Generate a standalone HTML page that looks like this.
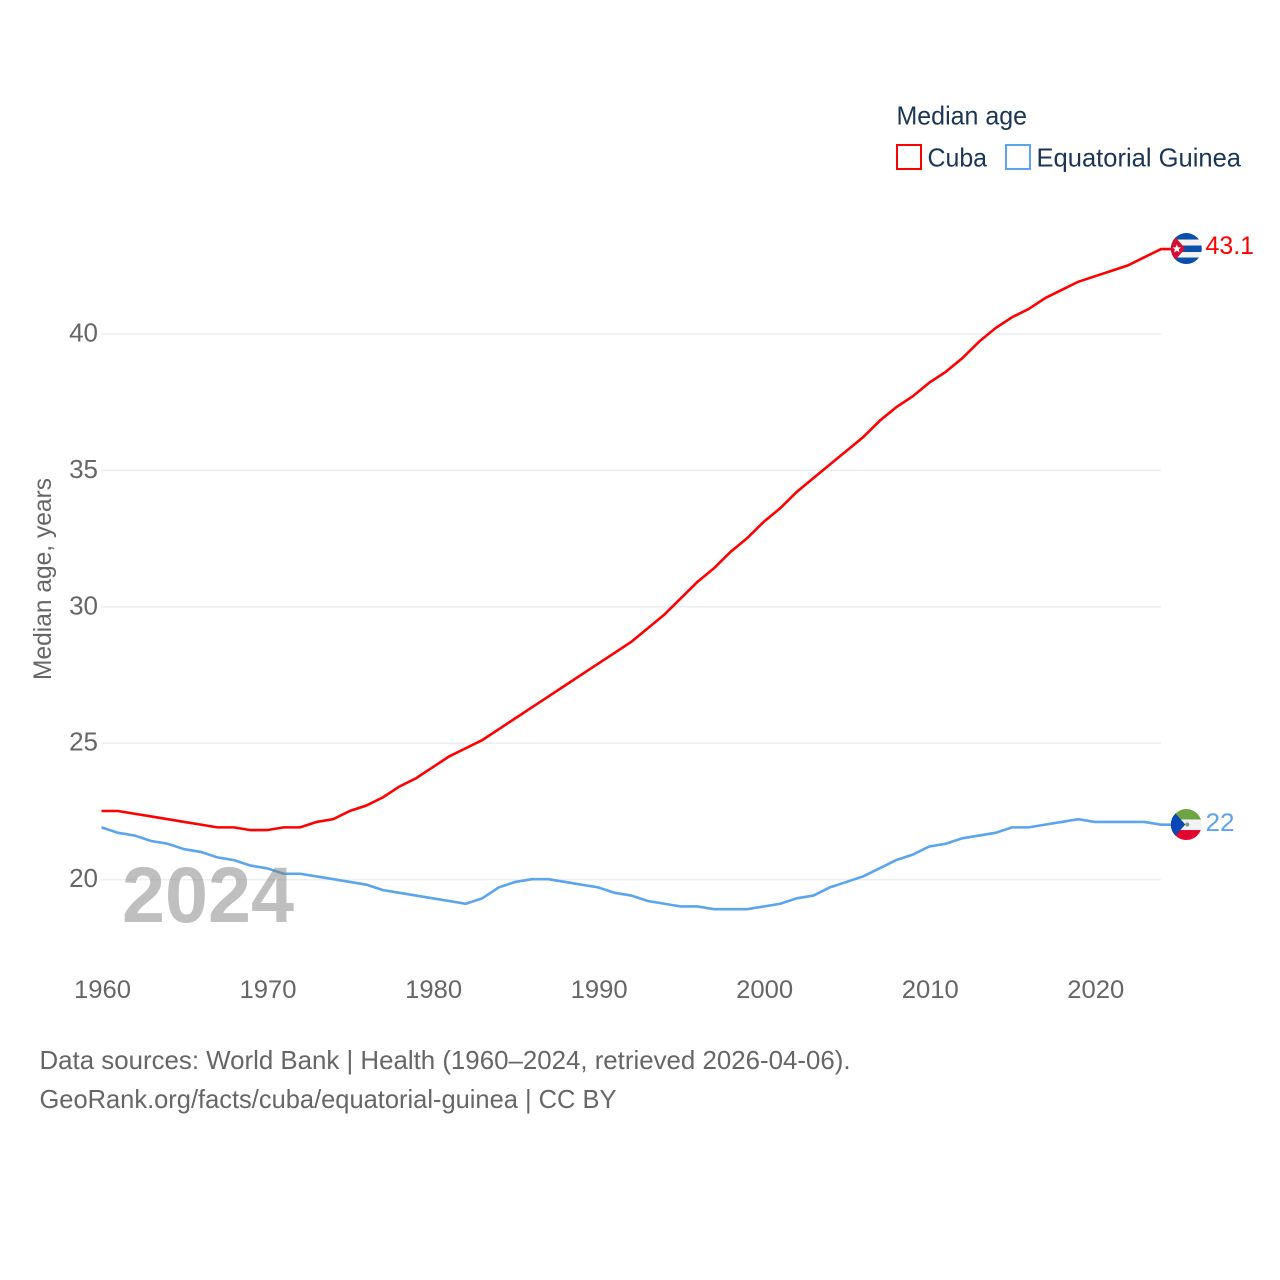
<!DOCTYPE html>
<html lang="en">
<head>
<meta charset="utf-8">
<title>Median age: Cuba and Equatorial Guinea</title>
<style>
html,body{margin:0;padding:0;background:#fff;width:1280px;height:1280px;overflow:hidden}
svg{display:block}
text{font-family:"Liberation Sans",sans-serif}
</style>
</head>
<body>
<svg id="chart" xmlns="http://www.w3.org/2000/svg" width="1280" height="1280" viewBox="0 0 1280 1280">
  <defs>
    <clipPath id="flag-clip"><circle cx="0" cy="0" r="15.5"/></clipPath>
  </defs>
  <g id="grid"></g>
  <g id="x-ticks"></g>
  <g id="y-ticks"></g>
  <text transform="translate(51,680) rotate(-90)" font-size="25" fill="#666" textLength="202" lengthAdjust="spacingAndGlyphs">Median age, years</text>
  <g id="series"></g>
  <text x="122" y="922" font-size="79" font-weight="bold" fill="#808080" fill-opacity="0.5" textLength="172" lengthAdjust="spacingAndGlyphs">2024</text>

  <g id="flag-cuba">
    <g clip-path="url(#flag-clip)">
      <rect x="-16" y="-16" width="32" height="32" fill="#f2f2f2"/>
      <rect x="-16" y="-16" width="32" height="7" fill="#0a4fa8"/>
      <rect x="-16" y="-3" width="32" height="6.5" fill="#0a4fa8"/>
      <rect x="-16" y="9" width="32" height="7" fill="#0a4fa8"/>
      <polygon points="-16,-17 -1,0 -16,17" fill="#d21034"/>
      <polygon points="-9.5,-4 -8.3,-1.2 -5.3,-1.2 -7.6,0.8 -6.8,3.8 -9.5,2.2 -12.2,3.8 -11.4,0.8 -13.7,-1.2 -10.7,-1.2" fill="#fff"/>
    </g>
  </g>
  <g id="flag-eg">
    <g clip-path="url(#flag-clip)">
      <rect x="-16" y="-16" width="32" height="11" fill="#6ea443"/>
      <rect x="-16" y="-5" width="32" height="10.5" fill="#f2f2f2"/>
      <rect x="-16" y="5.5" width="32" height="11" fill="#e0062d"/>
      <polygon points="-16,-17 -1,0 -16,17" fill="#0b48b5"/>
      <circle cx="1" cy="0" r="2" fill="#7f9a78"/>
    </g>
  </g>
  <text id="value-cuba" x="1205.5" font-size="25" fill="#ff0000" textLength="48.5" lengthAdjust="spacingAndGlyphs"></text>
  <text id="value-eg" x="1205.5" font-size="25" fill="#5ba4ee" textLength="29" lengthAdjust="spacingAndGlyphs"></text>

  <g>
    <text x="896.5" y="124.5" font-size="26" fill="#1b3557" textLength="130.5" lengthAdjust="spacingAndGlyphs">Median age</text>
    <g>
      <rect x="897" y="145" width="24" height="24" fill="#fff" stroke="#ff0000" stroke-width="2"/>
      <text x="927.5" y="166.5" font-size="26" fill="#1b3557" textLength="59.5" lengthAdjust="spacingAndGlyphs">Cuba</text>
    </g>
    <g>
      <rect x="1006" y="145" width="24" height="24" fill="#fff" stroke="#5ba4ee" stroke-width="2"/>
      <text x="1036.5" y="166.5" font-size="26" fill="#1b3557" textLength="204.5" lengthAdjust="spacingAndGlyphs">Equatorial Guinea</text>
    </g>
  </g>

  <text x="39.5" y="1069" font-size="26" fill="#666" textLength="811" lengthAdjust="spacingAndGlyphs">Data sources: World Bank | Health (1960–2024, retrieved 2026-04-06).</text>
  <text x="39.5" y="1108" font-size="26" fill="#666" textLength="577" lengthAdjust="spacingAndGlyphs">GeoRank.org/facts/cuba/equatorial-guinea | CC BY</text>
</svg>
<script>
const startYear = 1960;
const xTickLabels = [1960, 1970, 1980, 1990, 2000, 2010, 2020];
const yTickLabels = [20, 25, 30, 35, 40];
const cubaValues = [22.5,22.5,22.4,22.3,22.2,22.1,22.0,21.9,21.9,21.8,21.8,21.9,21.9,22.1,22.2,22.5,22.7,23.0,23.4,23.7,24.1,24.5,24.8,25.1,25.5,25.9,26.3,26.7,27.1,27.5,27.9,28.3,28.7,29.2,29.7,30.3,30.9,31.4,32.0,32.5,33.1,33.6,34.2,34.7,35.2,35.7,36.2,36.8,37.3,37.7,38.2,38.6,39.1,39.7,40.2,40.6,40.9,41.3,41.6,41.9,42.1,42.3,42.5,42.8,43.1];
const guineaValues = [21.9,21.7,21.6,21.4,21.3,21.1,21.0,20.8,20.7,20.5,20.4,20.2,20.2,20.1,20.0,19.9,19.8,19.6,19.5,19.4,19.3,19.2,19.1,19.3,19.7,19.9,20.0,20.0,19.9,19.8,19.7,19.5,19.4,19.2,19.1,19.0,19.0,18.9,18.9,18.9,19.0,19.1,19.3,19.4,19.7,19.9,20.1,20.4,20.7,20.9,21.2,21.3,21.5,21.6,21.7,21.9,21.9,22.0,22.1,22.2,22.1,22.1,22.1,22.1,22.0];

const NS = 'http://www.w3.org/2000/svg';
const xScale = function (year) { return 101.5 + (year - 1960) * 16.555; };
const yScale = function (v) { return 334 - (v - 40) * 27.28; };

const grid = document.getElementById('grid');
const xTicks = document.getElementById('x-ticks');
const yTicks = document.getElementById('y-ticks');
const seriesGroup = document.getElementById('series');

yTickLabels.forEach(function (v) {
  const line = document.createElementNS(NS, 'line');
  
  
  line.setAttribute('x1', 101);
  line.setAttribute('x2', 1161);
  line.setAttribute('y1', yScale(v));
  line.setAttribute('y2', yScale(v));
  line.setAttribute('stroke', '#eceef0');
  line.setAttribute('stroke-width', '1.5');
  grid.appendChild(line);

  const label = document.createElementNS(NS, 'text');
  
  
  label.setAttribute('x', 98);
  label.setAttribute('y', yScale(v) + 7.5);
  label.setAttribute('text-anchor', 'end');
  label.setAttribute('font-size', '26');
  label.setAttribute('fill', '#666');
  label.textContent = v;
  yTicks.appendChild(label);
});

xTickLabels.forEach(function (year) {
  const label = document.createElementNS(NS, 'text');
  
  
  label.setAttribute('x', xScale(year) + 1);
  label.setAttribute('y', 998);
  label.setAttribute('text-anchor', 'middle');
  label.setAttribute('font-size', '25');
  label.setAttribute('fill', '#666');
  label.setAttribute('textLength', '57');
  label.setAttribute('lengthAdjust', 'spacingAndGlyphs');
  label.textContent = year;
  xTicks.appendChild(label);
});

function linePoints(values) {
  const pts = values.map(function (v, i) {
    return xScale(startYear + i).toFixed(2) + ',' + yScale(v).toFixed(2);
  });
  const last = values[values.length - 1];
  pts.push('1172,' + yScale(last).toFixed(2));
  return pts.join(' ');
}

const cubaLine = document.createElementNS(NS, 'polyline');


cubaLine.setAttribute('points', linePoints(cubaValues));
cubaLine.setAttribute('fill', 'none');
cubaLine.setAttribute('stroke', '#ff0000');
cubaLine.setAttribute('stroke-width', '2.6');
cubaLine.setAttribute('transform', 'translate(0,-0.4)');
seriesGroup.appendChild(cubaLine);

const guineaLine = document.createElementNS(NS, 'polyline');


guineaLine.setAttribute('points', linePoints(guineaValues));
guineaLine.setAttribute('fill', 'none');
guineaLine.setAttribute('stroke', '#5ba4ee');
guineaLine.setAttribute('stroke-width', '2.6');
guineaLine.setAttribute('transform', 'translate(0,-0.4)');
seriesGroup.appendChild(guineaLine);

const cubaLast = cubaValues[cubaValues.length - 1];
const guineaLast = guineaValues[guineaValues.length - 1];
document.getElementById('flag-cuba').setAttribute('transform', 'translate(1186.3,' + (yScale(cubaLast) - 0.9).toFixed(2) + ')');
document.getElementById('flag-eg').setAttribute('transform', 'translate(1186.3,' + (yScale(guineaLast) - 0.5).toFixed(2) + ')');
const cubaLabel = document.getElementById('value-cuba');
cubaLabel.setAttribute('y', yScale(cubaLast) + 4.8);
cubaLabel.textContent = cubaLast;
const guineaLabel = document.getElementById('value-eg');
guineaLabel.setAttribute('y', yScale(guineaLast) + 5.8);
guineaLabel.textContent = guineaLast;
</script>
</body>
</html>
